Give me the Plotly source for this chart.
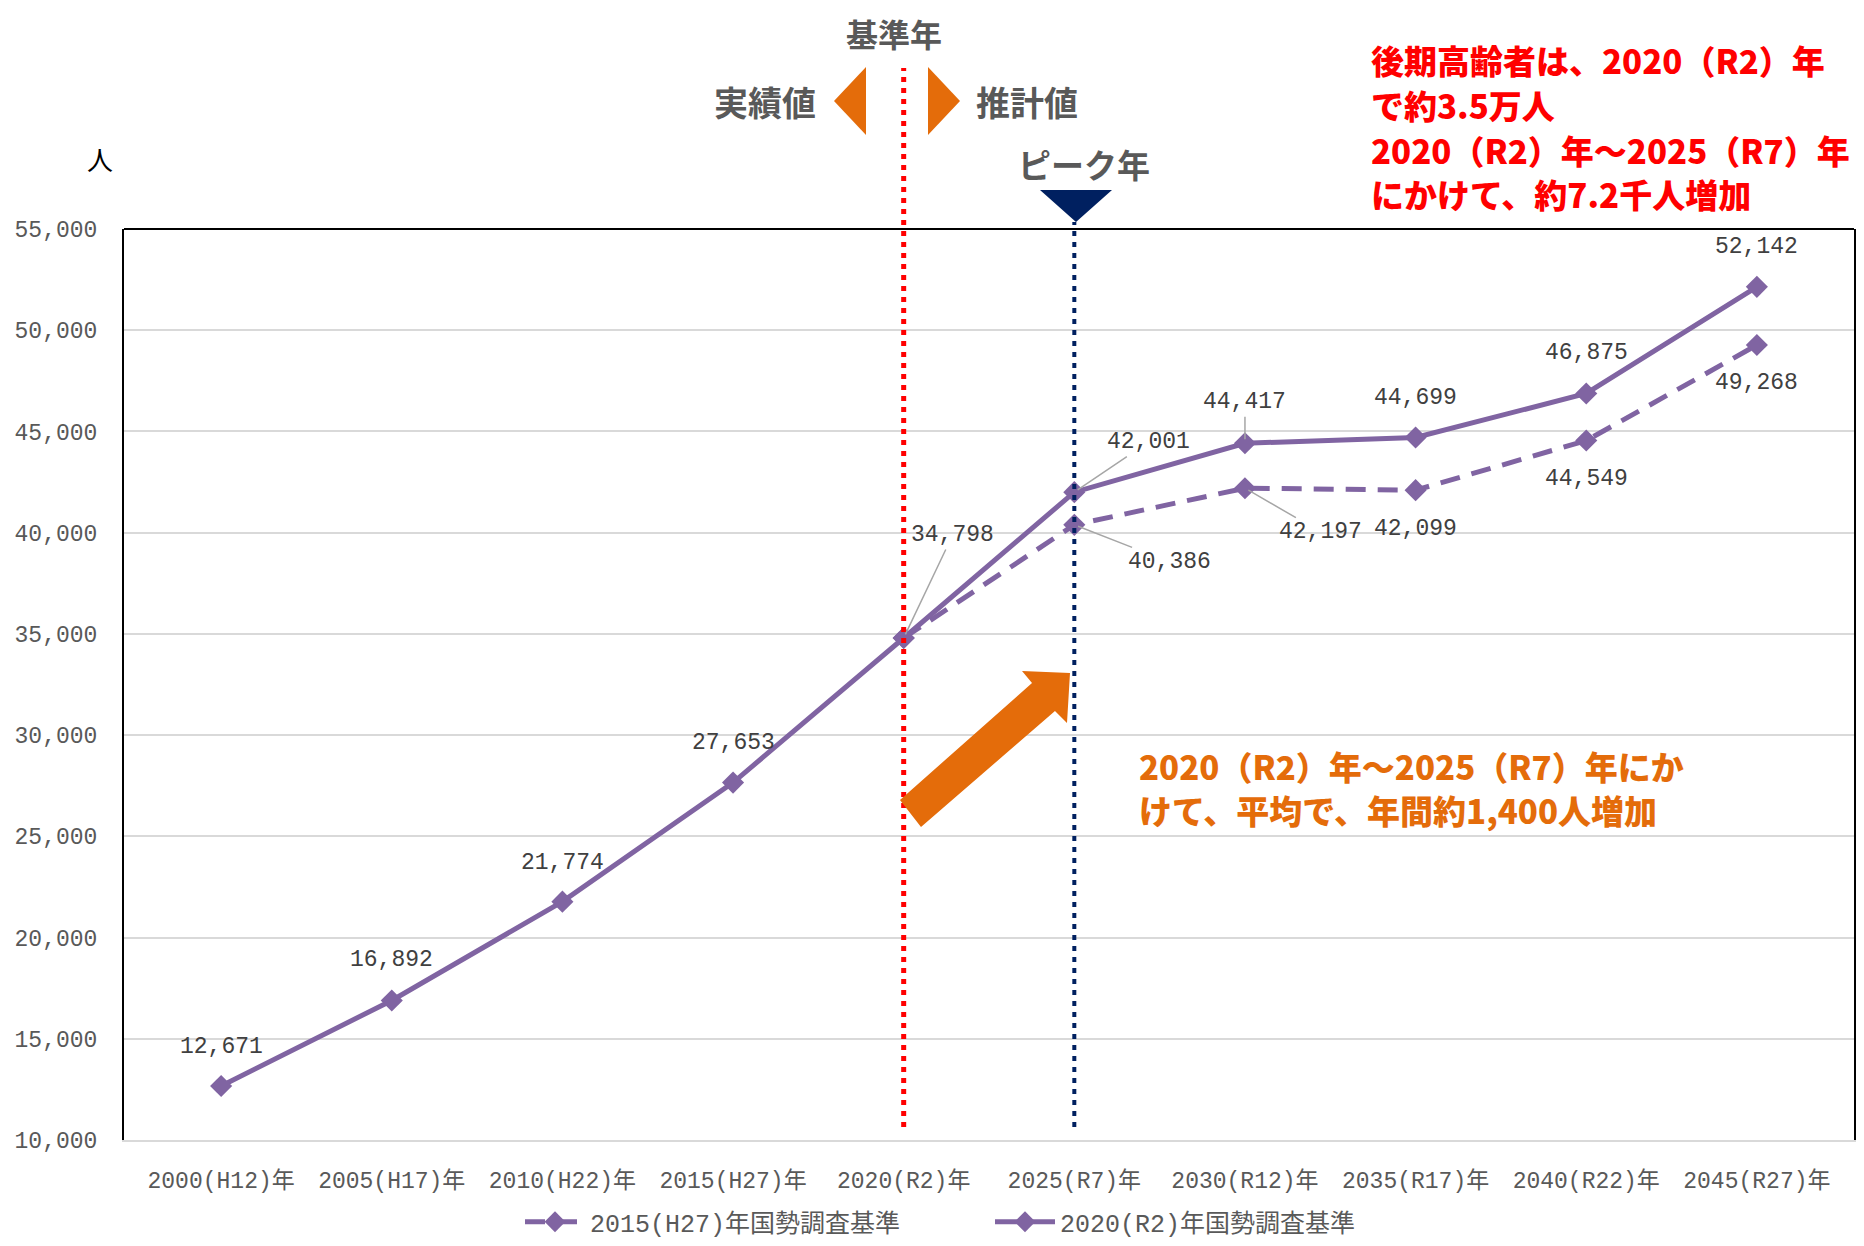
import plotly.graph_objects as go

categories = ["2000(H12)年", "2005(H17)年", "2010(H22)年", "2015(H27)年", "2020(R2)年",
              "2025(R7)年", "2030(R12)年", "2035(R17)年", "2040(R22)年", "2045(R27)年"]
series_2020 = [12671, 16892, 21774, 27653, 34798, 42001, 44417, 44699, 46875, 52142]
series_2015 = [None, None, None, None, 34798, 40386, 42197, 42099, 44549, 49268]
name_2015 = "2015(H27)年国勢調査基準"
name_2020 = "2020(R2)年国勢調査基準"
y_ticks = [10000, 15000, 20000, 25000, 30000, 35000, 40000, 45000, 50000, 55000]

# page geometry (the html body adds an 8px margin around the figure)
OFF = 8
W, H = 1864, 1246
FW, FH = W - 2 * OFF, H - 2 * OFF
L, R, T, B = 124, 1854, 229, 1140
PW, PH = R - L, B - T


def px(X):
    return (X - L) / PW


def py(Y):
    return (B - Y) / PH


PURPLE = "#8064A2"
GRAY = "#595959"
LBL = "#404040"
MONO = "Liberation Mono, Noto Sans CJK JP, sans-serif"
JP = "Noto Sans CJK JP, sans-serif"

fig = go.Figure()
fig.add_trace(go.Scatter(
    x=categories, y=series_2015, name=name_2015, mode="lines+markers",
    line=dict(color=PURPLE, width=5, dash="20px,12px"),
    marker=dict(symbol="diamond", size=17, color=PURPLE),
    connectgaps=False,
))
fig.add_trace(go.Scatter(
    x=categories, y=series_2020, name=name_2020, mode="lines+markers",
    line=dict(color=PURPLE, width=5),
    marker=dict(symbol="diamond", size=17, color=PURPLE),
))

ann = []
lblfont = dict(family=MONO, size=23, color=LBL)

plain_2020 = {0: 39, 1: 40, 2: 39, 3: 40, 7: 40, 8: 40, 9: 40}
for i, dy in plain_2020.items():
    ann.append(dict(x=categories[i], y=series_2020[i], xref="x", yref="y",
                    text=f"{series_2020[i]:,}", showarrow=False, yshift=dy,
                    font=lblfont, xanchor="center", yanchor="middle"))
plain_2015 = {7: -39, 8: -38, 9: -38}
for i, dy in plain_2015.items():
    ann.append(dict(x=categories[i], y=series_2015[i], xref="x", yref="y",
                    text=f"{series_2015[i]:,}", showarrow=False, yshift=dy,
                    font=lblfont, xanchor="center", yanchor="middle"))

lead = [
    (categories[4], series_2020[4], 49, -103),
    (categories[5], series_2020[5], 74, -50),
    (categories[6], series_2020[6], 0, -41),
    (categories[5], series_2015[5], 95, 37),
    (categories[6], series_2015[6], 76, 44),
]
for xc, v, ax, ay in lead:
    ann.append(dict(x=xc, y=v, xref="x", yref="y", text=f"{v:,}",
                    showarrow=True, ax=ax, ay=ay, axref="pixel", ayref="pixel",
                    arrowhead=0, arrowwidth=1.5, arrowcolor="#A6A6A6", standoff=4,
                    font=lblfont))


def txt(text, X, Y, size, color, weight=700, xanchor="center", family=JP):
    ann.append(dict(x=px(X), y=py(Y), xref="paper", yref="paper", text=text,
                    showarrow=False, xanchor=xanchor, yanchor="middle",
                    font=dict(family=family, size=size, color=color, weight=weight)))

txt("基準年", 894, 33, 32, GRAY)
txt("実績値", 818, 102, 34, GRAY, xanchor="right")
txt("推計値", 974, 102, 34, GRAY, xanchor="left")
txt("ピーク年", 1084, 164, 33, GRAY)
txt("人", 100, 158, 26, "#000000", weight=400)

red_lines = ["後期高齢者は、2020（R2）年", "で約3.5万人", "2020（R2）年～2025（R7）年", "にかけて、約7.2千人増加"]
for line, yy in zip(red_lines, [60, 105, 150, 194]):
    txt(line, 1369, yy, 33, "#FF0000", weight=900, xanchor="left")

orange_lines = ["2020（R2）年～2025（R7）年にか", "けて、平均で、年間約1,400人増加"]
for line, yy in zip(orange_lines, [766, 810]):
    txt(line, 1137, yy, 33, "#E46C0A", weight=900, xanchor="left")

shapes = []
shapes.append(dict(type="line", xref="paper", yref="paper", x0=0, x1=1, y0=1, y1=1,
                   line=dict(color="#000000", width=2)))
shapes.append(dict(type="line", xref="x", yref="paper", x0=categories[4], x1=categories[4],
                   y0=py(1127), y1=py(68), line=dict(color="#FF0000", width=5, dash="5px,6px")))
shapes.append(dict(type="line", xref="x", yref="paper", x0=categories[5], x1=categories[5],
                   y0=py(1127), y1=py(222), line=dict(color="#002060", width=4, dash="5px,6px")))


def poly(pts, color):
    d = "M " + " L ".join(f"{px(a):.5f},{py(b):.5f}" for a, b in pts) + " Z"
    shapes.append(dict(type="path", xref="paper", yref="paper", path=d,
                       fillcolor=color, line=dict(width=0)))

poly([(834, 101), (866, 67), (866, 135)], "#E46C0A")
poly([(928, 67), (928, 135), (960, 101)], "#E46C0A")
poly([(1040, 190), (1112, 190), (1076, 222)], "#002060")
poly([(900, 800), (1032, 683), (1022, 671), (1070, 673), (1067, 723), (1055, 711), (921, 827)], "#E46C0A")

fig.update_layout(
    width=FW, height=FH,
    margin=dict(l=L - OFF, r=(OFF + FW) - R, t=T - OFF, b=(OFF + FH) - B, pad=0, autoexpand=False),
    plot_bgcolor="white", paper_bgcolor="white",
    showlegend=True,
    legend=dict(orientation="h", x=px(520), y=py(1222), xanchor="left", yanchor="middle",
                font=dict(family=MONO, size=25, color=GRAY), itemwidth=60,
                entrywidth=395, entrywidthmode="pixels",
                bgcolor="rgba(0,0,0,0)"),
    annotations=ann, shapes=shapes,
    xaxis=dict(type="category", categoryorder="array", categoryarray=categories,
               showline=True, linecolor="#D9D9D9", linewidth=2, showgrid=False,
               tickfont=dict(family=MONO, size=23, color=GRAY), ticks="",
               ticklabelstandoff=18, automargin=False),
    yaxis=dict(range=[10000, 55000], tickvals=y_ticks,
               ticktext=[f"{v:,}" for v in y_ticks],
               showline=True, linecolor="#000000", linewidth=2, mirror=True,
               showgrid=True, gridcolor="#D9D9D9", gridwidth=2, zeroline=False,
               tickfont=dict(family=MONO, size=23, color=GRAY), ticks="",
               ticklabelstandoff=20, automargin=False),
)

fig.write_html("out.html")
